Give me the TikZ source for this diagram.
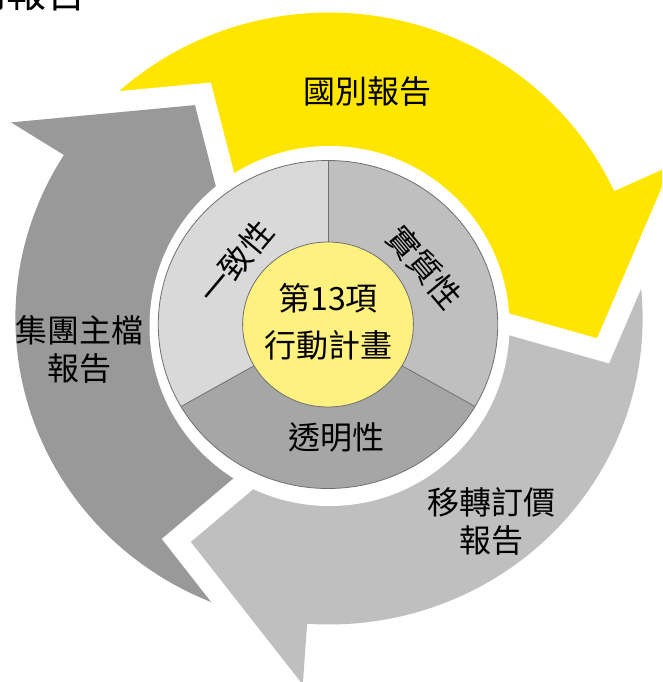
\documentclass[tikz,border=0pt]{standalone}
\usepackage{fontspec}
\setmainfont{Noto Sans CJK TC}
\definecolor{yel}{HTML}{FFE600}
\definecolor{lgray}{HTML}{BFBFBF}
\definecolor{dgray}{HTML}{999999}
\definecolor{segA}{HTML}{D9D9D9}
\definecolor{segB}{HTML}{BFBFBF}
\definecolor{segC}{HTML}{A6A6A6}
\definecolor{core}{HTML}{FFF180}
\definecolor{edge}{HTML}{6F6F6F}
\newcommand\cyclearrow[6]{%
  \path[arrowfill=#1] (#2:160) -- plot[domain=#2:#4, samples=60] (\x:160)
    -- (#5:#6) -- (#3:367) -- (#3:306)
    -- plot[domain=#3:#2, samples=60] (\x:306) -- cycle;}
\begin{document}
\begin{tikzpicture}[x=1pt,y=-1pt,
  lbl/.style={font=\fontsize{32}{38}\selectfont, align=center, inner sep=0pt, text=black},
  arrowfill/.style={fill=#1, preaction={draw=white, line width=42pt, line join=miter}},
  segline/.style={draw=edge, line width=0.8pt}]
\useasboundingbox (0,0) rectangle (662,682);
\clip (0,0) rectangle (662,682);
\fill[white] (0,0) rectangle (662,682);
% arrows
\begin{scope}[shift={(329,318.5)}, xscale=1.025]
  \cyclearrow{yel}{218}{335.4}{356.5}{364.3}{262.2}
  \cyclearrow{dgray}{105}{212.3}{228}{238.5}{250.3}
  \cyclearrow{lgray}{-12}{94}{108.8}{121.1}{260.9}
  \begin{scope}
    \clip (0:0) -- (-42:540) -- (-20:540) -- (0:540) -- (20:540) -- (35:540) -- cycle;
    \cyclearrow{yel}{218}{335.4}{356.5}{364.3}{262.2}
  \end{scope}
\end{scope}
% white disc
\fill[white] (329.5,326) circle[radius=180];
% pie
\begin{scope}[shift={(328,324.5)}, xscale=1.035]
  \fill[segA] (0,0) -- plot[domain=150:270, samples=60] (\x:164) -- cycle;
  \fill[segB] (0,0) -- plot[domain=270:390, samples=60] (\x:164) -- cycle;
  \fill[segC] (0,0) -- plot[domain=30:150, samples=60] (\x:164) -- cycle;
  \draw[segline] (150:82) -- (150:164);
  \draw[segline] (270:82) -- (270:164);
  \draw[segline] (30:82) -- (30:164);
  \draw[segline] (0,0) circle[radius=164];
  \filldraw[fill=core, draw=edge, line width=0.8pt] (0,0) circle[radius=82.5];
\end{scope}
% labels
\node[lbl] (top) at (367.5,91) {國別報告};
\node[lbl] (left) at (79.5,349) {集團主檔\\報告};
\node[lbl] (right) at (491.5,521) {移轉訂價\\報告};
\node[lbl, font=\fontsize{32}{47}\selectfont] (center) at (328,321.5) {第13項\\行動計畫};
\node[lbl, rotate=50] (consist) at (235.7,262.3) {一致性};
\node[lbl, rotate=-50] (subst) at (425,267.3) {實質性};
\node[lbl] (transp) at (336.5,437.5) {透明性};
\node[font=\fontsize{40}{40}\selectfont, anchor=base east, inner sep=0pt] (title) at (87,8) {國別報告};
\end{tikzpicture}
\end{document}
